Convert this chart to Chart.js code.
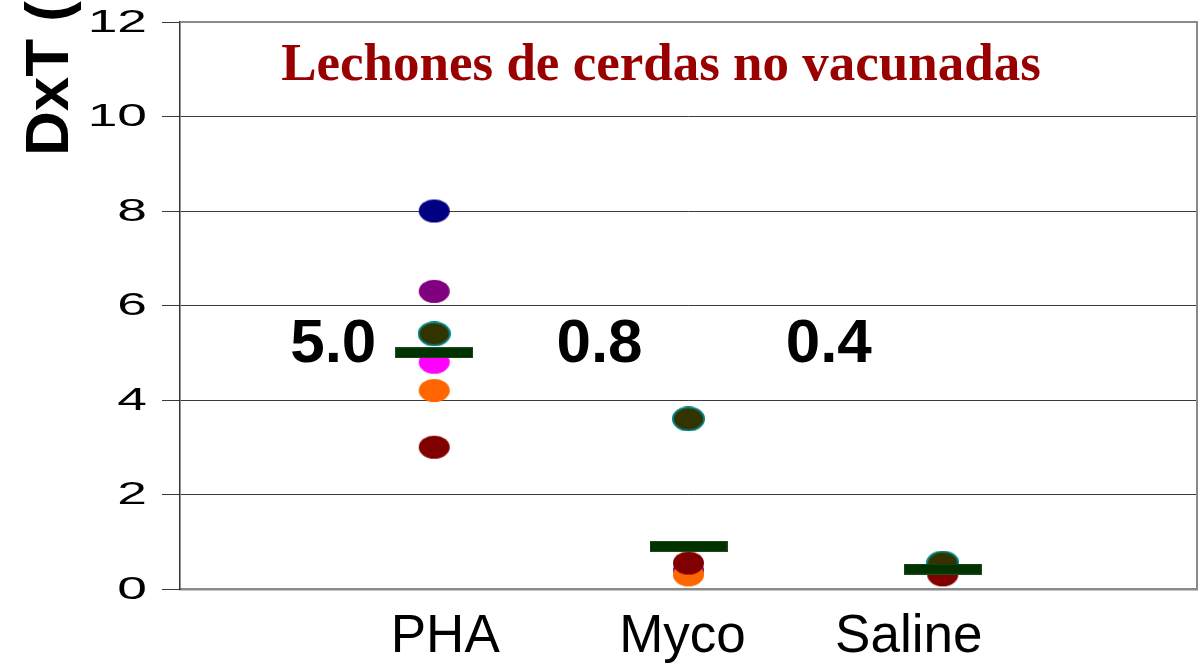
<!DOCTYPE html>
<html><head><meta charset="utf-8">
<script src="https://cdn.jsdelivr.net/npm/chart.js@4/dist/chart.umd.min.js"></script>
<style>html,body{margin:0;padding:0;background:#fff;}canvas{display:block;}</style>
</head><body>
<canvas id="c" width="1202" height="664"></canvas>
<script>
// ---- data ----
const categories = ['PHA', 'Myco', 'Saline'];
const navyVals    = [8.0, null, null];
const purpleVals  = [6.3, 0.4, null];
const oliveVals   = [5.4, 3.6, 0.55];
const magentaVals = [4.8, null, null];
const orangeVals  = [4.2, 0.3, null];
const maroonVals  = [3.0, 0.55, 0.3];
const meanVals    = [5.0, 0.9, 0.42];
const meanLabels  = ['5.0', '0.8', '0.4'];
const yTicks      = [0, 2, 4, 6, 8, 10, 12];
const chartTitle  = 'Lechones de cerdas no vacunadas';
const yTitle      = 'DxT (';

// ---- styling helpers ----
function ellipse(fill, stroke) {
  const c = document.createElement('canvas');
  c.width = 33; c.height = 25;
  const x = c.getContext('2d');
  x.beginPath();
  x.ellipse(16.5, 12.5, 15.5, 11.5, 0, 0, Math.PI * 2);
  x.fillStyle = fill; x.fill();
  if (stroke) { x.lineWidth = 2; x.strokeStyle = stroke; x.stroke(); }
  return c;
}
function meanBar() {
  const c = document.createElement('canvas');
  c.width = 78; c.height = 11;
  const x = c.getContext('2d');
  x.fillStyle = '#003300'; x.fillRect(0, 0, 78, 11);
  x.strokeStyle = '#1f4a1f'; x.lineWidth = 1; x.strokeRect(0.5, 0.5, 77, 10);
  return c;
}
const toXY = arr => arr.map((v, i) => v === null ? null : ({x: i + 1, y: v})).filter(p => p);

function ds(label, vals, img, order) {
  return {label, data: toXY(vals), pointStyle: img, pointRadius: 15, showLine: false, order};
}

const xLabelOffsets = [11, -6, -34];
const meanLabelOffsets = [-101, -89, -114];

const overlay = {
  id: 'overlay',
  beforeDatasetsDraw(chart) {
    const {ctx, chartArea: a} = chart;
    ctx.save();
    ctx.strokeStyle = '#8a8a8a'; ctx.lineWidth = 2;
    ctx.beginPath();
    ctx.moveTo(a.left, a.top); ctx.lineTo(a.right, a.top); ctx.lineTo(a.right, a.bottom);
    ctx.stroke();
    ctx.restore();
  },
  afterDraw(chart) {
    const {ctx, scales: {x, y}} = chart;
    ctx.save();
    // y tick labels, horizontally stretched
    ctx.fillStyle = '#000';
    ctx.font = '31px "Liberation Sans", Arial, sans-serif';
    ctx.textAlign = 'right'; ctx.textBaseline = 'middle';
    yTicks.forEach(t => {
      ctx.save();
      ctx.translate(147, y.getPixelForValue(t) + 1);
      ctx.scale(1.72, 1);
      ctx.fillText(String(t), 0, 0);
      ctx.restore();
    });
    // x labels
    ctx.font = '53px "Liberation Sans", Arial, sans-serif';
    ctx.textAlign = 'center'; ctx.textBaseline = 'alphabetic';
    categories.forEach((c, i) => {
      ctx.fillText(c, x.getPixelForValue(i + 1) + xLabelOffsets[i], 652);
    });
    // mean value labels
    ctx.font = 'bold 62px "Liberation Sans", Arial, sans-serif';
    meanLabels.forEach((m, i) => {
      ctx.fillText(m, x.getPixelForValue(i + 1) + meanLabelOffsets[i], y.getPixelForValue(4.8));
    });
    // chart title
    ctx.fillStyle = '#990000';
    ctx.font = 'bold 53px "Liberation Serif", "Times New Roman", serif';
    ctx.fillText(chartTitle, 661, 80);
    // y title
    ctx.fillStyle = '#000';
    ctx.font = 'bold 62px "Liberation Sans", Arial, sans-serif';
    ctx.translate(68, 156); ctx.rotate(-Math.PI / 2);
    ctx.textAlign = 'left';
    ctx.fillText(yTitle, 0, 0);
    ctx.restore();
  }
};

new Chart(document.getElementById('c'), {
  type: 'scatter',
  data: {
    datasets: [
      ds('Media', meanVals, meanBar(), 0),
      ds('A', maroonVals, ellipse('#800000'), 1),
      ds('B', orangeVals, ellipse('#ff6600'), 3),
      ds('C', magentaVals, ellipse('#ff00ff'), 4),
      ds('D', oliveVals, ellipse('#333300', '#008080'), 2),
      ds('E', purpleVals, ellipse('#800080'), 5),
      ds('F', navyVals, ellipse('#000080'), 6),
    ]
  },
  options: {
    responsive: false,
    animation: false,
    devicePixelRatio: 1,
    layout: {autoPadding: false, padding: {top: 22, right: 5, left: 0, bottom: 0}},
    plugins: {legend: {display: false}, tooltip: {enabled: false}},
    scales: {
      x: {
        type: 'linear', min: 0, max: 4,
        grid: {display: false},
        border: {display: true, color: '#8a8a8a', width: 2.5},
        ticks: {display: false},
        afterFit(s) { s.height = 75; }
      },
      y: {
        min: 0, max: 12,
        ticks: {display: false, stepSize: 2},
        grid: {color: '#3a3a3a', lineWidth: 1, tickLength: 18, drawTicks: true},
        border: {display: true, color: '#333', width: 1.5},
        afterFit(s) { s.width = 180; }
      }
    }
  },
  plugins: [overlay]
});
</script>
</body></html>
